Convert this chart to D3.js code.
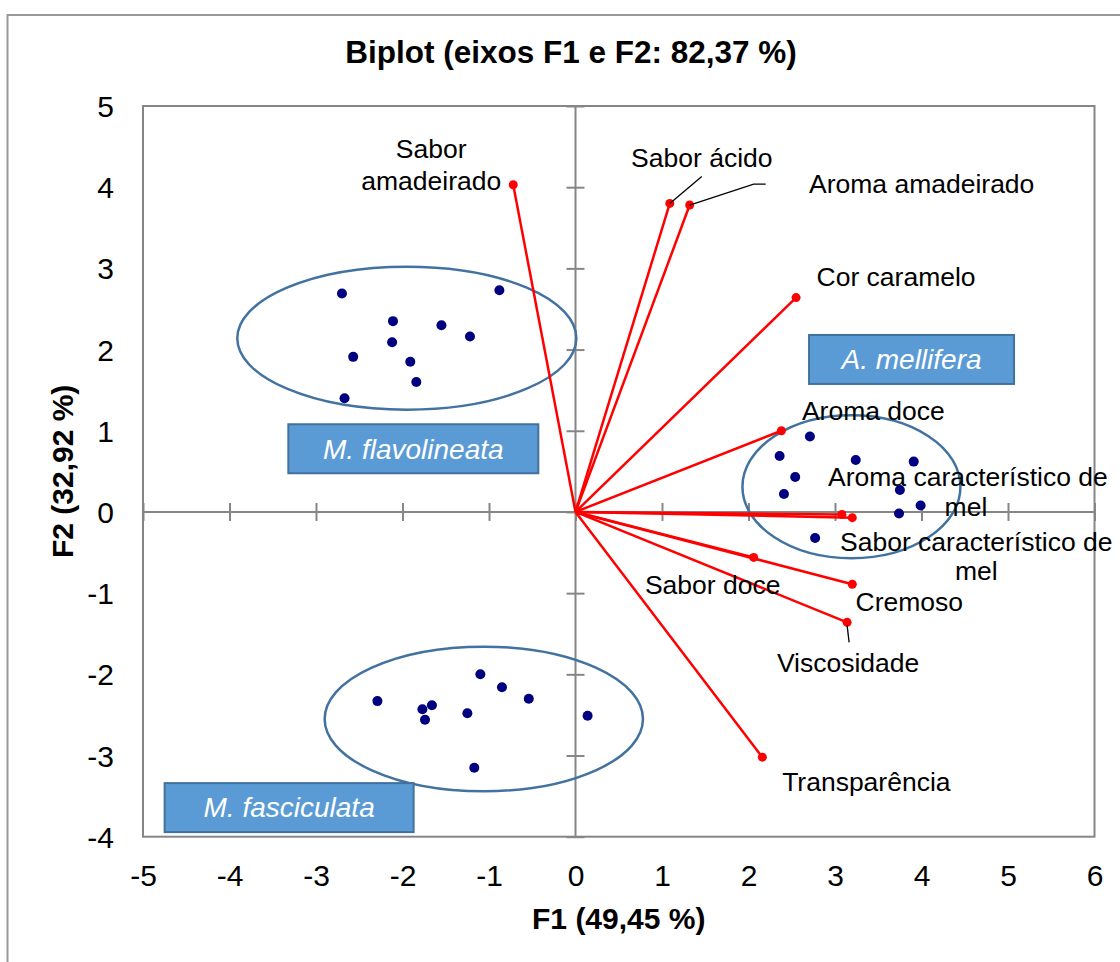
<!DOCTYPE html>
<html>
<head>
<meta charset="utf-8">
<script src="https://cdn.jsdelivr.net/npm/d3@7"></script>
<style>
body { margin: 0; background: #fff; }
text { font-family: "Liberation Sans", Arial, sans-serif; }
</style>
</head>
<body>
<div id="chart"></div>
<script>
var width = 1120,
    height = 962;

// variables (red vectors)
var varNames = [
    ["Sabor", "amadeirado"],
    ["Sabor ácido"],
    ["Aroma amadeirado"],
    ["Cor caramelo"],
    ["Aroma doce"],
    ["Aroma característico de", "mel"],
    ["Sabor característico de", "mel"],
    ["Sabor doce"],
    ["Cremoso"],
    ["Viscosidade"],
    ["Transparência"]
];
var varF1 = [-0.72, 1.09, 1.32, 2.55, 2.38, 3.08, 3.20, 2.06, 3.20, 3.14, 2.16];
var varF2 = [4.03, 3.80, 3.78, 2.64, 1.00, -0.03, -0.07, -0.56, -0.89, -1.36, -3.02];

// observations per group
var mellF1 = [2.71, 2.36, 3.24, 3.91, 2.54, 2.41, 3.75, 3.99, 3.74, 2.77];
var mellF2 = [0.93, 0.69, 0.64, 0.62, 0.43, 0.22, 0.27, 0.08, -0.02, -0.32];
var flavF1 = [-2.70, -0.88, -2.11, -1.55, -1.22, -2.12, -2.57, -1.91, -1.84, -2.67];
var flavF2 = [2.69, 2.73, 2.35, 2.30, 2.16, 2.09, 1.91, 1.85, 1.60, 1.40];
var fascF1 = [-1.10, -0.85, -0.54, -2.29, -1.66, -1.77, -1.25, -1.74, 0.14, -1.17];
var fascF2 = [-2.00, -2.16, -2.30, -2.33, -2.38, -2.43, -2.48, -2.56, -2.51, -3.15];

// group ellipses (data units) and group labels
var groupNames = ["A. mellifera", "M. flavolineata", "M. fasciculata"];
var ellCx = [3.19, -1.95, -1.06];
var ellCy = [0.31, 2.14, -2.55];
var ellRx = [1.26, 1.96, 1.84];
var ellRy = [0.88, 0.88, 0.89];
var boxLeft = [2.70, -3.32, -4.75];
var boxTop = [2.18, 1.08, -3.34];

var xTicks = d3.range(-5, 7);
var yTicks = d3.range(-4, 6);

// label placement, pixel offsets from each vector end
var labelOffset = [[-82, -36], [32, -46], [232, -21], [100, -21], [92, -20], [126, -38],
    [124, 24], [-41, 27], [57, 18], [1, 40], [104, 25]];
var labelLineGap = [32, 0, 0, 0, 0, 30, 29, 0, 0, 0, 0];
var leaders = {1: [[0, 0], [32, -27]], 2: [[0, 0], [64, -21], [76, -21]], 9: [[0, 3], [2, 20]]};
var boxW = [205, 250, 249], boxH = 49;

var plotL = 143, plotR = 1094.5, plotT = 106, plotB = 836.7;
var axisGrey = "#868686";

var svg = d3.select("#chart")
    .append("svg")
    .attr("width", width)
    .attr("height", height);

var x = d3.scaleLinear().domain([-5, 6]).range([plotL, plotR]);
var y = d3.scaleLinear().domain([-4, 5]).range([plotB, plotT]);

// outer chart frame (cut off at right and bottom)
svg.append("rect")
    .attr("x", 7.5).attr("y", 15)
    .attr("width", 1300).attr("height", 1100)
    .attr("fill", "none")
    .attr("stroke", "#999")
    .attr("stroke-width", 2);

svg.append("text")
    .attr("x", 571).attr("y", 63)
    .attr("text-anchor", "middle")
    .style("font-size", "31.5px")
    .style("font-weight", "bold")
    .text("Biplot (eixos F1 e F2: 82,37 %)");

// plot area border
svg.append("rect")
    .attr("x", plotL).attr("y", plotT)
    .attr("width", plotR - plotL).attr("height", plotB - plotT)
    .attr("fill", "none")
    .attr("stroke", axisGrey)
    .attr("stroke-width", 2);

// axes through the origin
svg.append("line")
    .attr("x1", x(-5)).attr("x2", x(6))
    .attr("y1", y(0)).attr("y2", y(0))
    .attr("stroke", axisGrey).attr("stroke-width", 2);
svg.append("line")
    .attr("x1", x(0)).attr("x2", x(0))
    .attr("y1", y(-4)).attr("y2", y(5))
    .attr("stroke", axisGrey).attr("stroke-width", 2);

var xCross = svg.append("g")
    .attr("transform", "translate(0," + (y(0) - 9) + ")")
    .call(d3.axisBottom(x).tickValues(xTicks).tickSize(18).tickFormat(""));
var yCross = svg.append("g")
    .attr("transform", "translate(" + (x(0) - 9) + ",0)")
    .call(d3.axisRight(y).tickValues(yTicks).tickSize(18).tickFormat(""));
[xCross, yCross].forEach(function (g) {
    g.select(".domain").remove();
    g.selectAll("line").attr("stroke", axisGrey).attr("stroke-width", 2);
});

// tick labels
var xLab = svg.append("g")
    .attr("transform", "translate(0,875)")
    .call(d3.axisBottom(x).tickValues(xTicks).tickSize(0).tickPadding(0)
        .tickFormat(function (d) { return String(d); }));
xLab.selectAll("text").attr("y", 0).attr("dy", "0.35em");

var yLab = svg.append("g")
    .attr("transform", "translate(114,0)")
    .call(d3.axisLeft(y).tickValues(yTicks).tickSize(0).tickPadding(0)
        .tickFormat(function (d) { return String(d); }));
yLab.selectAll("text").attr("dy", "0.35em");

[xLab, yLab].forEach(function (g) {
    g.select(".domain").remove();
    g.selectAll("text")
        .attr("fill", "#000")
        .style("font-size", "30px")
        .style("font-family", "'Liberation Sans', Arial, sans-serif");
});

// axis titles
svg.append("text")
    .attr("x", (plotL + plotR) / 2).attr("y", 929)
    .attr("text-anchor", "middle")
    .style("font-size", "30px")
    .style("font-weight", "bold")
    .text("F1 (49,45 %)");

svg.append("text")
    .attr("transform", "translate(62," + ((plotT + plotB) / 2) + ")rotate(-90)")
    .attr("text-anchor", "middle")
    .attr("dy", "0.35em")
    .style("font-size", "30px")
    .style("font-weight", "bold")
    .text("F2 (32,92 %)");

// group ellipses
svg.selectAll("ellipse.group")
    .data(groupNames)
    .enter()
    .append("ellipse")
    .attr("class", "group")
    .attr("cx", function (d, i) { return x(ellCx[i]); })
    .attr("cy", function (d, i) { return y(ellCy[i]); })
    .attr("rx", function (d, i) { return x(ellRx[i]) - x(0); })
    .attr("ry", function (d, i) { return y(0) - y(ellRy[i]); })
    .attr("fill", "none")
    .attr("stroke", "#4272a0")
    .attr("stroke-width", 2.5);

// variable vectors
var vars = varNames.map(function (n, i) { return {name: n, f1: varF1[i], f2: varF2[i], i: i}; });

svg.selectAll("line.vec")
    .data(vars)
    .enter()
    .append("line")
    .attr("class", "vec")
    .attr("x1", x(0)).attr("y1", y(0))
    .attr("x2", function (d) { return x(d.f1); })
    .attr("y2", function (d) { return y(d.f2); })
    .attr("stroke", "#ff0000")
    .attr("stroke-width", 2.5);

svg.selectAll("circle.vec")
    .data(vars)
    .enter()
    .append("circle")
    .attr("class", "vec")
    .attr("cx", function (d) { return x(d.f1); })
    .attr("cy", function (d) { return y(d.f2); })
    .attr("r", 4.5)
    .attr("fill", "#ff0000");

// observations
var obs = [];
[[mellF1, mellF2], [flavF1, flavF2], [fascF1, fascF2]].forEach(function (s) {
    s[0].forEach(function (v, j) { obs.push([v, s[1][j]]); });
});

svg.selectAll("circle.obs")
    .data(obs)
    .enter()
    .append("circle")
    .attr("class", "obs")
    .attr("cx", function (d) { return x(d[0]); })
    .attr("cy", function (d) { return y(d[1]); })
    .attr("r", 5)
    .attr("fill", "#000080");

// leader lines
Object.keys(leaders).forEach(function (k) {
    var d = vars[k];
    var pts = leaders[k].map(function (p) { return [x(d.f1) + p[0], y(d.f2) + p[1]]; });
    svg.append("path")
        .attr("d", d3.line()(pts))
        .attr("fill", "none")
        .attr("stroke", "#000")
        .attr("stroke-width", 1.3);
});

// variable labels
var lab = svg.selectAll("text.var")
    .data(vars)
    .enter()
    .append("text")
    .attr("class", "var")
    .attr("text-anchor", "middle")
    .style("font-size", "26.5px")
    .attr("x", function (d) { return x(d.f1) + labelOffset[d.i][0]; })
    .attr("y", function (d) { return y(d.f2) + labelOffset[d.i][1]; });

lab.selectAll("tspan")
    .data(function (d) { return d.name.map(function (t, j) { return {t: t, j: j, p: d}; }); })
    .enter()
    .append("tspan")
    .attr("x", function (s) { return x(s.p.f1) + labelOffset[s.p.i][0] - (s.j ? 2 * (s.p.i === 5) : 0); })
    .attr("y", function (s) { return y(s.p.f2) + labelOffset[s.p.i][1] + s.j * labelLineGap[s.p.i]; })
    .attr("dy", "0.35em")
    .text(function (s) { return s.t; });

// group name boxes
var box = svg.selectAll("g.box")
    .data(groupNames)
    .enter()
    .append("g")
    .attr("class", "box")
    .attr("transform", function (d, i) { return "translate(" + x(boxLeft[i]) + "," + y(boxTop[i]) + ")"; });

box.append("rect")
    .attr("width", function (d, i) { return boxW[i]; })
    .attr("height", boxH)
    .attr("fill", "#5b9bd5")
    .attr("stroke", "#41719c")
    .attr("stroke-width", 2);

box.append("text")
    .attr("x", function (d, i) { return boxW[i] / 2; })
    .attr("y", boxH / 2)
    .attr("dy", "0.35em")
    .attr("text-anchor", "middle")
    .attr("fill", "#fff")
    .style("font-size", "28px")
    .style("font-style", "italic")
    .text(function (d) { return d; });
</script>
</body>
</html>
